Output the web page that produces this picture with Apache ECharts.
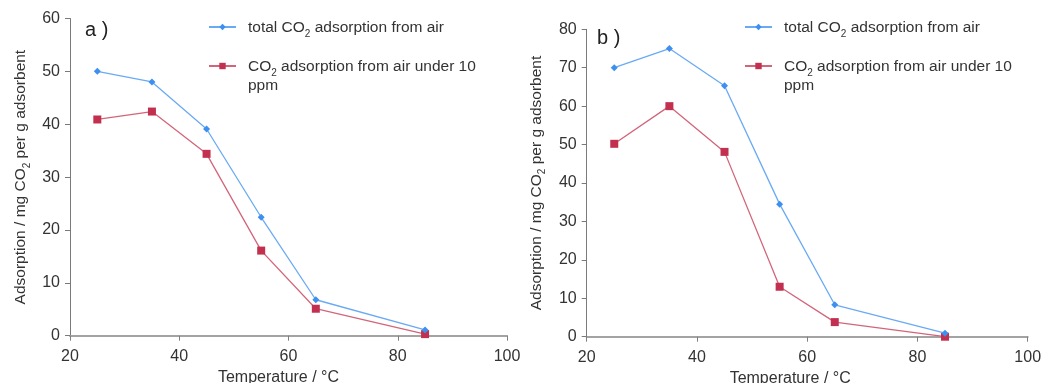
<!DOCTYPE html>
<html><head><meta charset="utf-8">
<script src="https://cdn.jsdelivr.net/npm/echarts@6/dist/echarts.min.js"></script>
<style>html,body{margin:0;padding:0;background:#fff}#c{width:1051px;height:383px}</style>
</head><body><div id="c"></div>
<script>
var temperatures = [25, 35, 45, 55, 65, 85];
var totalA = [50, 48, 39.1, 22.4, 6.8, 1.1];
var under10A = [40.9, 42.4, 34.4, 16.1, 5.1, 0.3];
var totalB = [70, 75, 65.3, 34.5, 8.3, 0.9];
var under10B = [50.2, 60, 48.1, 13, 3.8, 0];
var xTicks = [20, 40, 60, 80, 100];
var nameTotal = 'total CO2 adsorption from air';
var nameUnder = 'CO2 adsorption from air under 10 ppm';

function pairs(vals){ return temperatures.map(function(t,i){return [t, vals[i]];}); }
var FONT = 'Liberation Sans, Arial, sans-serif';
var BLUE = '#3d8ff0', BLUE_L = '#6aaaf4', RED = '#c3304f', RED_L = '#d3657a';
var rich = {
  g: {width: 7},
  n: {fontFamily: FONT, fontSize: 15.5, color: '#333', lineHeight: 18, verticalAlign: 'bottom'},
  s: {fontFamily: FONT, fontSize: 10, color: '#333', lineHeight: 18, verticalAlign: 'bottom', padding:[0,0,-3,0]}
};
function legendFmt(name){
  if (name === nameTotal) return '{g|}{n|total CO}{s|2}{n| adsorption from air}';
  return '{g|}{n|CO}{s|2}{n| adsorption from air under 10}';
}
function xAxis(idx){
  return {type:'value', gridIndex: idx, min:20, max:100, interval:20,
    name:'Temperature / °C', nameLocation:'middle', nameGap:33,
    nameTextStyle:{fontFamily:FONT, fontSize:16, color:'#333', padding:[0,idx?34:20,0,0]},
    axisLine:{lineStyle:{color:'#a3a3a3', width:2}},
    axisTick:{show:true, length:5, lineStyle:{color:'#808080', width:1}},
    axisLabel:{fontFamily:FONT, fontSize:16, color:'#333', margin:13},
    splitLine:{show:false}};
}
function yAxis(idx, max){
  return {type:'value', gridIndex: idx, min:0, max:max, interval:10,
    name:'{n|Adsorption / mg CO}{s|2}{n| per g adsorbent}', nameLocation:'middle', nameRotate:90,
    nameGap: idx ? 42 : 41,
    nameTextStyle:{rich:{n:{fontFamily:FONT,fontSize:15.5,color:'#333',lineHeight:18,verticalAlign:'bottom'}, s:{fontFamily:FONT,fontSize:10,color:'#333',lineHeight:18,verticalAlign:'bottom',padding:[0,0,-3,0]}}},
    axisLine:{show:true, lineStyle:{color:'#7a7a7a', width:1}},
    axisTick:{show:true, length:5, lineStyle:{color:'#7a7a7a'}},
    axisLabel:{fontFamily:FONT, fontSize:16, color:'#333', margin:10},
    splitLine:{show:false}};
}
function series(name, vals, idx, isRed){
  return {name:name, type:'line', xAxisIndex:idx, yAxisIndex:idx, data:pairs(vals),
    symbol: isRed ? 'rect' : 'diamond', symbolSize: isRed ? 8 : 7,
    itemStyle:{color: isRed ? RED : BLUE},
    lineStyle:{color: isRed ? RED_L : BLUE_L, width: 1.3},
    z: isRed ? 2 : 3, animation:false};
}
function legend(left){
  return {orient:'vertical', left:left, top:14, itemGap:19, itemWidth:27, itemHeight:8,
    data:[nameTotal, nameUnder], formatter: legendFmt, selectedMode:false,
    textStyle:{rich:rich, fontFamily:FONT, fontSize:15.5, color:'#333'}};
}
var chart = echarts.init(document.getElementById('c'));
chart.setOption({
  animation:false,
  grid:[{left:70, right:544, top:18.5, bottom:47.3, outerBoundsMode:'none', containLabel:false},
        {left:586.7, right:23.3, top:29.3, bottom:46.3, outerBoundsMode:'none', containLabel:false}],
  xAxis:[xAxis(0), xAxis(1)],
  yAxis:[yAxis(0,60), yAxis(1,80)],
  legend:[legend(203), legend(739)],
  graphic:[
    {type:'text', left:85, top:20, style:{text:'a )', fontFamily:FONT, fontSize:20, fill:'#222'}},
    {type:'text', left:597, top:28, style:{text:'b )', fontFamily:FONT, fontSize:20, fill:'#222'}},
    {type:'text', left:248, top:78, style:{text:'ppm', fontFamily:FONT, fontSize:15.5, fill:'#333'}},
    {type:'text', left:784, top:78, style:{text:'ppm', fontFamily:FONT, fontSize:15.5, fill:'#333'}}
  ],
  series:[series(nameTotal,totalA,0,false), series(nameUnder,under10A,0,true),
          series(nameTotal,totalB,1,false), series(nameUnder,under10B,1,true)]
});
</script></body></html>
